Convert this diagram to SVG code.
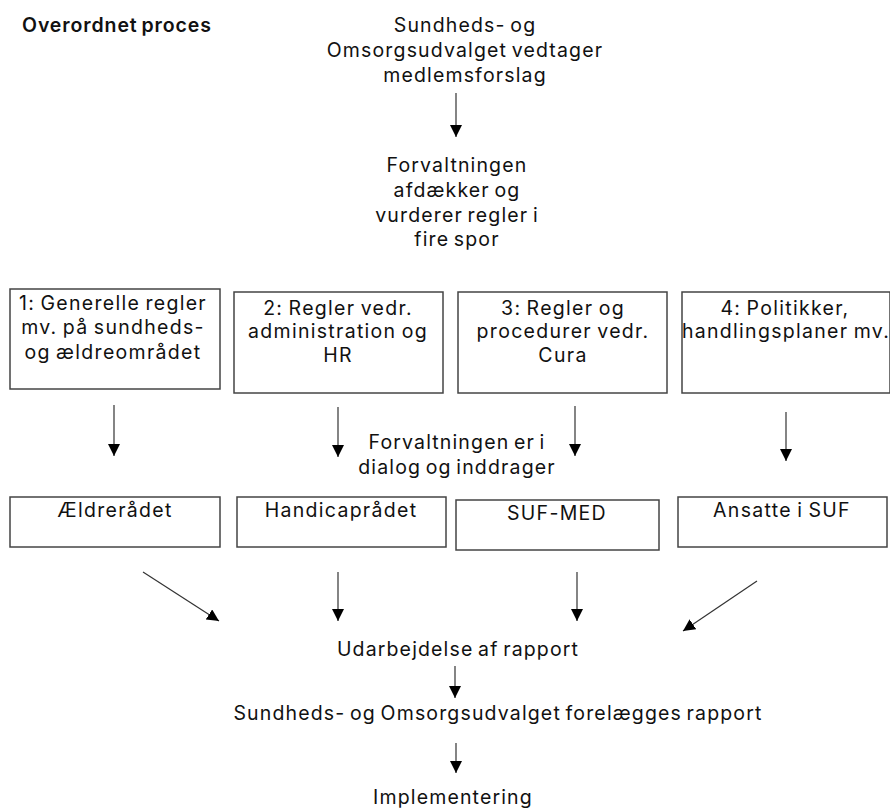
<svg xmlns="http://www.w3.org/2000/svg" width="890" height="808" viewBox="0 0 890 808">
<defs>
<marker id="ah" viewBox="0 0 12 12" refX="12" refY="6" markerWidth="12" markerHeight="12" markerUnits="userSpaceOnUse" orient="auto">
<path d="M0,0 L12,6 L0,12 Z" fill="#000"/>
</marker>
<style>
text{font-family:Inter,"Liberation Sans",sans-serif;font-size:19.5px;letter-spacing:1.15px;word-spacing:-2px;fill:#111;text-anchor:middle}
.b text{letter-spacing:1.3px;word-spacing:-1.5px}
.box{fill:#fff;stroke:#444;stroke-width:1.5}
.conn line{stroke:#333;stroke-width:1.2;marker-end:url(#ah)}
</style>
</defs>
<rect width="890" height="808" fill="#fff"/>
<g id="header"><text x="22" y="32" style="text-anchor:start;font-weight:600;letter-spacing:0.9px">Overordnet proces</text></g>
<g id="start"><text x="465" y="32">Sundheds- og</text><text x="465" y="57">Omsorgsudvalget vedtager</text><text x="465" y="82">medlemsforslag</text></g>
<g id="forvaltning"><text x="457" y="172">Forvaltningen</text><text x="457" y="197">afdækker og</text><text x="457" y="222">vurderer regler i</text><text x="457" y="246">fire spor</text></g>
<g id="spor1" class="b"><rect class="box" x="10" y="289" width="210" height="100"/><text x="113" y="310">1: Generelle regler</text><text x="113" y="334">mv. på sundheds-</text><text x="113" y="359">og ældreområdet</text></g>
<g id="spor2" class="b"><rect class="box" x="234" y="292" width="209" height="101"/><text x="338" y="315">2: Regler vedr.</text><text x="338" y="338">administration og</text><text x="338" y="362">HR</text></g>
<g id="spor3" class="b"><rect class="box" x="458" y="292" width="209" height="101"/><text x="563" y="315">3: Regler og</text><text x="563" y="338">procedurer vedr.</text><text x="563" y="362">Cura</text></g>
<g id="spor4" class="b"><rect class="box" x="682" y="292" width="208" height="101"/><text x="785" y="315">4: Politikker,</text><text x="786" y="338">handlingsplaner mv.</text></g>
<g id="dialog"><text x="457" y="449">Forvaltningen er i</text><text x="457" y="474">dialog og inddrager</text></g>
<g id="aeldreraadet" class="b"><rect class="box" x="10" y="497" width="210" height="50"/><text x="115" y="517">Ældrerådet</text></g>
<g id="handicapraadet" class="b"><rect class="box" x="237" y="497" width="209" height="50"/><text x="341" y="517">Handicaprådet</text></g>
<g id="sufmed" class="b"><rect class="box" x="456" y="500" width="203" height="50"/><text x="557" y="520">SUF-MED</text></g>
<g id="ansatte" class="b"><rect class="box" x="678" y="497" width="209" height="50"/><text x="782" y="517">Ansatte i SUF</text></g>
<g id="rapport"><text x="458" y="656">Udarbejdelse af rapport</text></g>
<g id="forelaegges"><text x="498" y="720">Sundheds- og Omsorgsudvalget forelægges rapport</text></g>
<g id="implementering"><text x="453" y="804">Implementering</text></g>
<g class="conn" id="connectors">
<line x1="456" y1="93" x2="456" y2="137"/>
<line x1="114" y1="405" x2="114" y2="456"/>
<line x1="338" y1="407" x2="338" y2="457"/>
<line x1="575" y1="406" x2="575" y2="456"/>
<line x1="786" y1="412" x2="786" y2="461"/>
<line x1="143" y1="572" x2="219" y2="621"/>
<line x1="338" y1="572" x2="338" y2="621"/>
<line x1="577" y1="572" x2="577" y2="621"/>
<line x1="757" y1="581" x2="683" y2="631"/>
<line x1="455" y1="666" x2="455" y2="698"/>
<line x1="456" y1="743" x2="456" y2="773"/>
</g>
</svg>
